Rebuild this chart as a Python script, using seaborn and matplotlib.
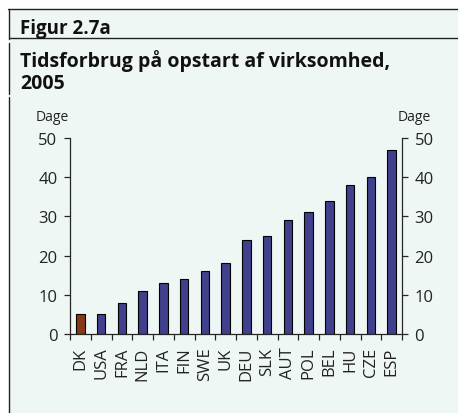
import matplotlib
matplotlib.use('Agg')
import matplotlib.pyplot as plt
import seaborn as sns
from matplotlib.lines import Line2D
from matplotlib.patches import Rectangle

# data
countries = ['DK', 'USA', 'FRA', 'NLD', 'ITA', 'FIN', 'SWE', 'UK', 'DEU',
             'SLK', 'AUT', 'POL', 'BEL', 'HU', 'CZE', 'ESP']
days = [5, 5, 8, 11, 13, 14, 16, 18, 24, 25, 29, 31, 34, 38, 40, 47]
yticks = [0, 10, 20, 30, 40, 50]

bg = '#eff7f4'
blue = '#333399'
red = '#993300'
colors = {c: (red if c == 'DK' else blue) for c in countries}

sns.set_style('ticks')
plt.rcParams['font.family'] = ['Open Sans', 'DejaVu Sans']

W, H = 458, 414
fig = plt.figure(figsize=(W / 100, H / 100), dpi=100, facecolor='white')

# panel background and frame lines
fig.add_artist(Rectangle((9 / W, 0), 1, 1 - 10 / H, transform=fig.transFigure,
                         facecolor=bg, edgecolor='none', zorder=0))
def fline(x0, y0, x1, y1):
    fig.add_artist(Line2D([x0 / W, x1 / W], [1 - y0 / H, 1 - y1 / H],
                          transform=fig.transFigure, color='#222222', lw=1.0))
fline(8, 10, W, 10)
fline(9, 39, W, 39)
fline(9, 10, 9, 40)
fline(9, 44, 9, 95)
fline(9, 98, 9, H)

fig.text(20 / W, 1 - 34 / H, 'Figur 2.7a', fontsize=13.5, fontweight='bold',
         va='baseline', color='#111111')
fig.text(20 / W, 1 - 89 / H, 'Tidsforbrug på opstart af virksomhed,\n2005',
         fontsize=14, fontweight='bold', va='baseline', color='#111111',
         linespacing=1.15)

ax = fig.add_axes([70 / W, 1 - 335 / H, 332 / W, 196 / H])
ax.set_facecolor('none')
sns.barplot(x=countries, y=days, hue=countries, palette=colors, legend=False,
            width=0.42, edgecolor='black', linewidth=0.8, ax=ax)
ax.set_xlim(-0.5, len(countries) - 0.5)
ax.set_ylim(0, 50)
ax.set_yticks(yticks)
for s in ['top', 'right']:
    ax.spines[s].set_visible(False)
for s in ['left', 'bottom']:
    ax.spines[s].set_linewidth(0.9)
ax.tick_params(axis='y', length=4, width=0.9, labelsize=12, pad=5,
               labelcolor='#222222')
ax.set_xticks(range(len(countries)))
ax.set_xticklabels(countries, rotation=90, fontsize=12, color='#222222')
ax.tick_params(axis='x', which='major', length=0, pad=9)
ax.set_xticks([i - 0.5 for i in range(len(countries) + 1)], minor=True)
ax.tick_params(axis='x', which='minor', length=4, width=0.9)
ax.set_xlabel('')
ax.set_ylabel('')

ax2 = ax.twinx()
ax2.set_ylim(0, 50)
ax2.set_yticks(yticks)
for s in ['top', 'left', 'bottom']:
    ax2.spines[s].set_visible(False)
ax2.spines['right'].set_linewidth(0.9)
ax2.tick_params(axis='y', length=4, width=0.9, labelsize=12, pad=5,
                labelcolor='#222222')

fig.text(36 / W, 1 - 121 / H, 'Dage', fontsize=10, va='baseline', color='#222222')
fig.text(431 / W, 1 - 121 / H, 'Dage', fontsize=10, va='baseline', ha='right',
         color='#222222')

fig.savefig('out.png', dpi=100)
